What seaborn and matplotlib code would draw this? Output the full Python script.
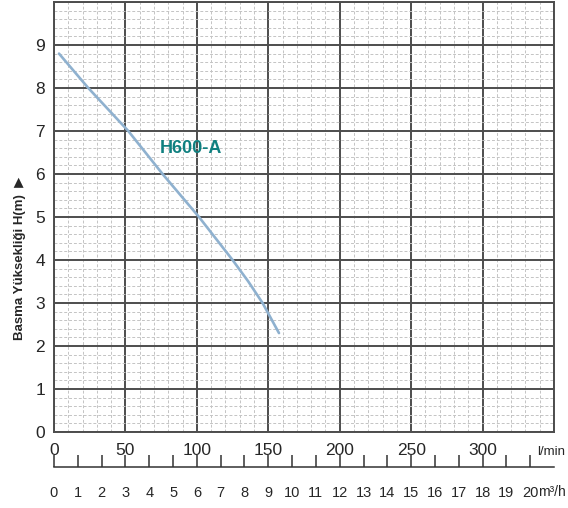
import pandas as pd
import seaborn as sns
import matplotlib.pyplot as plt
import numpy as np

# Pump curve (flow in l/min, head in m)
flow_lpm = [3.5, 24, 52, 76, 101.5, 125, 136, 146, 157.5]
head_m = [8.8, 8.0, 7.0, 6.0, 5.0, 4.0, 3.5, 3.0, 2.3]
model_name = "H600-A"

x_ticks = [0, 50, 100, 150, 200, 250, 300]
y_ticks = [0, 1, 2, 3, 4, 5, 6, 7, 8, 9]
m3h_ticks = list(range(0, 21))

df = pd.DataFrame({"flow": flow_lpm, "head": head_m})

sns.set_style("white")
plt.rcParams['font.family'] = ['Liberation Sans', 'DejaVu Sans']

fig = plt.figure(figsize=(5.68, 5.08), dpi=100)
ax = fig.add_axes([54/568, 76/508, 500/568, 430/508])

# grid: dashed minor, solid major
ax.set_xlim(0, 350)
ax.set_ylim(0, 10)
ax.set_xticks(np.arange(0, 351, 50))
ax.set_yticks(np.arange(0, 11, 1))
ax.set_xticks(np.arange(0, 351, 10), minor=True)
ax.set_yticks(np.arange(0, 10.01, 0.2), minor=True)
ax.grid(which='minor', color='#c4c4c4', lw=0.7, ls=(0, (3, 2)))
ax.grid(which='major', color='#4d4d4d', lw=1.4, ls='-')
ax.set_axisbelow(True)
for s in ax.spines.values():
    s.set_color('#4d4d4d')
    s.set_linewidth(1.4)

sns.lineplot(data=df, x="flow", y="head", ax=ax, color='#8fb1cf', lw=1.9)

ax.set_xlabel("")
ax.set_ylabel("")
ax.xaxis.set_major_formatter(plt.FixedFormatter([str(v) if v in x_ticks else "" for v in range(0, 351, 50)]))
ax.yaxis.set_major_formatter(plt.FixedFormatter([str(v) if v in y_ticks else "" for v in range(0, 11)]))
ax.tick_params(which='both', length=0)
ax.tick_params(axis='x', pad=8, labelsize=12.5)
ax.tick_params(axis='y', pad=6.5, labelsize=12.5)

ax.text(96, 6.6, model_name, color='#108080', fontsize=13, fontweight='bold',
        ha='center', va='center')

ax.text(0.966, -0.047, "l/min", transform=ax.transAxes, fontsize=9.5,
        ha='left', va='center')

# second scale in m3/h under the l/min axis
sec = ax.secondary_xaxis(-0.0814, functions=(lambda x: x * 0.06, lambda x: x / 0.06))
sec.set_xticks(m3h_ticks)
sec.set_xticklabels([str(v) for v in m3h_ticks])
sec.tick_params(which='minor', length=0, width=0)
sec.tick_params(which='major', direction='in', length=9, width=1.1, color='#333333',
                pad=13.5, labelsize=10.5)
sec.spines['bottom'].set_color('#333333')
sec.spines['bottom'].set_linewidth(1.1)
ax.text(339, -0.1395, "m\u00b3/h", transform=ax.get_xaxis_transform(), fontsize=10,
        ha='left', va='center')

fig.text(20/568, 1 - 258/508, "Basma Yüksekliği H(m)  \u25B6", rotation=90,
         fontsize=9.5, fontweight='bold', ha='center', va='center')

fig.savefig('out.png', dpi=100)
